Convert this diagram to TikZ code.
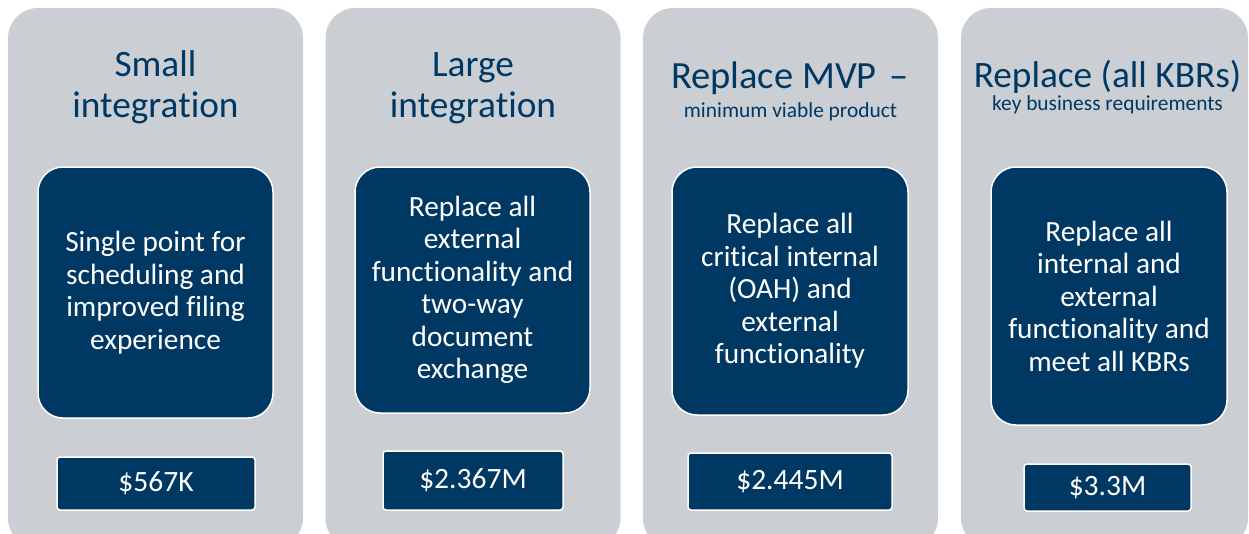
\documentclass[tikz,border=0pt]{standalone}
\usepackage{fontspec}
\setmainfont{Carlito}[Ligatures=NoCommon]
\definecolor{navy}{RGB}{0,56,100}
\definecolor{panelgray}{RGB}{203,206,211}
\begin{document}
\begin{tikzpicture}[x=1pt,y=-1pt]
\tikzset{panel/.style={fill=panelgray,rounded corners=30pt,minimum width=295pt,minimum height=540pt,inner sep=0pt},
descbox/.style={fill=navy,draw=white,line width=1.5pt,rounded corners=25pt,text=white,align=center,inner sep=0pt,minimum width=235pt,font=\fontsize{29.3}{32.5}\selectfont},
costbox/.style={fill=navy,draw=white,line width=1.5pt,rounded corners=3pt,text=white,inner sep=0pt,font=\fontsize{29.5}{32}\selectfont},
headtext/.style={text=navy,anchor=base,inner sep=0pt,font=\fontsize{37.3}{41}\selectfont},
subtext/.style={text=navy,anchor=base,inner sep=0pt,font=\fontsize{21.4}{24}\selectfont}}
\useasboundingbox (0,0) rectangle (1249,533);
% panels
\node[panel] (p1) at (155.5,278) {};
\node[panel] (p2) at (473,278) {};
\node[panel] (p3) at (790.5,278) {};
\node[panel,minimum width=287pt] (p4) at (1104.5,278) {};
% titles
\node[headtext] (t1a) at (155.5,76) {Small};
\node[headtext] (t1b) at (155.5,117) {integration};
\node[headtext] (t2a) at (473,76) {Large};
\node[headtext] (t2b) at (473,117) {integration};
\node[headtext,font=\fontsize{38.5}{41}\selectfont] (t3a) at (790,88) {Replace MVP\hspace{13pt}–};
\node[subtext] (t3b) at (790.5,117) {minimum viable product};
\node[headtext] (t4a) at (1107.5,87) {Replace (all KBRs)};
\node[subtext] (t4b) at (1107.5,110) {key business requirements};
% descriptions
\node[descbox,minimum height=251pt] (d1) at (155.5,292.5) {Single point for\\scheduling and\\improved filing\\experience};
\node[descbox,minimum height=246pt] (d2) at (472.5,290) {Replace all\\external\\functionality and\\two-way\\document\\exchange};
\node[descbox,minimum width=236pt,minimum height=248pt] (d3) at (790,291) {Replace all\\critical internal\\(OAH) and\\external\\functionality};
\node[descbox,minimum width=236pt,minimum height=258pt] (d4) at (1109,296) {Replace all\\internal and\\external\\functionality and\\meet all KBRs};
% costs
\node[costbox,minimum width=198pt,minimum height=53pt] (c1) at (156,483.5) {\$567K};
\node[costbox,minimum width=180pt,minimum height=59pt] (c2) at (473,480.5) {\$2.367M};
\node[costbox,minimum width=204pt,minimum height=57pt] (c3) at (790,481.5) {\$2.445M};
\node[costbox,minimum width=167pt,minimum height=47pt] (c4) at (1107.5,487.5) {\$3.3M};
\end{tikzpicture}
\end{document}
